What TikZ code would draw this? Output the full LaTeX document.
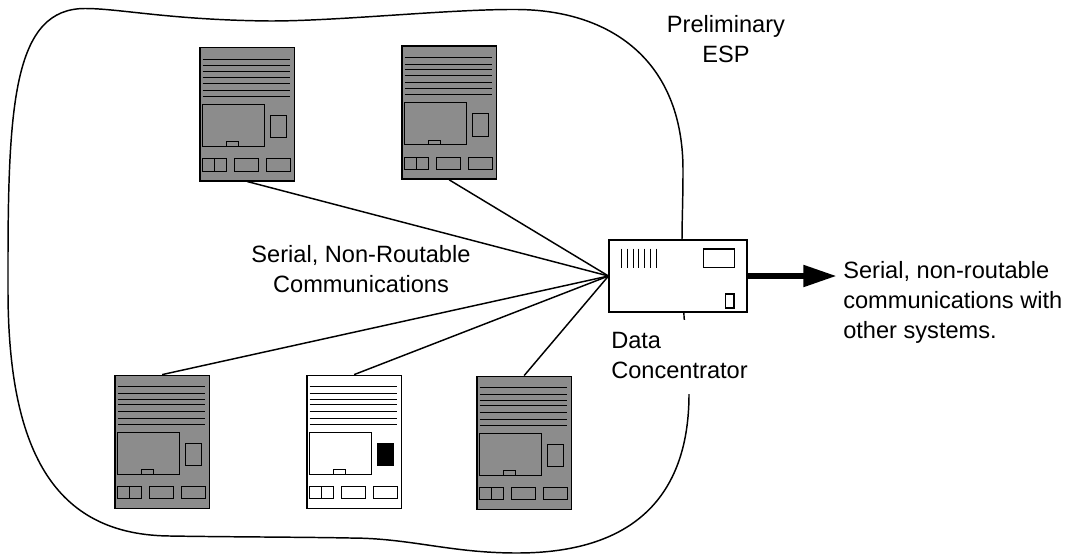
\documentclass[tikz,border=0pt]{standalone}
\usepackage{fontspec}
\setmainfont{Liberation Sans}
\definecolor{devgray}{HTML}{8C8C8C}
\tikzset{
  x=0.75pt,y=-0.75pt,
  frame/.style={draw=black,line width=1.3pt,inner sep=0pt,anchor=north west,minimum width=70.9pt,minimum height=99.8pt},
  inner/.style={draw=black,line width=0.75pt},
  link/.style={draw=black,line width=1.1pt},
  lbl/.style={align=center,font=\fontsize{17.7}{22.3}\selectfont,inner sep=0pt},
}
\newcommand{\device}[5]{%
  \node[frame,fill=#4] (#1) at (#2,#3) {};
  \begin{scope}[shift={(#2,#3)}]
    \foreach \yy in {12.3,19,24.7,30.3,37,43.7,49.7}
      \draw[inner] (3.7,\yy) -- (91,\yy);
    \draw[inner] (3.7,57.7) rectangle (65.7,99.7);
    \draw[inner] (27.3,95) rectangle (39.7,99.7);
    \draw[inner,fill=#5] (71,68.7) rectangle (87.3,91);
    \draw[inner] (3.7,112) rectangle (27.7,124.3);
    \draw[inner] (15.7,112) -- (15.7,124.3);
    \draw[inner] (35.3,112) rectangle (59.3,124.3);
    \draw[inner] (67,112) rectangle (91.3,124.3);
  \end{scope}}
\begin{document}
\begin{tikzpicture}
\useasboundingbox (0,0) rectangle (1066,554);
\draw[link] (85,8.5) .. controls (120,8.5) and (170,20) .. (270,21)
  .. controls (340,21) and (450,9) .. (517,9.5)
  .. controls (610,10) and (683,60) .. (683,170)
  .. controls (683,200) and (682,220) .. (682,240)
  -- (684,316) .. controls (686,340) and (689,370) .. (689,394)
  .. controls (689,490) and (640,553) .. (517,553)
  .. controls (450,553) and (410,538) .. (350,538)
  .. controls (300,537) and (230,537) .. (170,536)
  .. controls (60,535) and (8,460) .. (8,290)
  -- (8,265)
  .. controls (8,100) and (15,8.5) .. (85,8.5) -- cycle;
\node[fill=white,inner sep=0pt,minimum width=104pt,minimum height=55.5pt,anchor=north west] (conclabel) at (610,319.5) {};
\node[lbl,align=left,anchor=base west] (conctext) at (611,378) {Data\\Concentrator};
\node[lbl,anchor=base] (esp) at (726,62) {Preliminary\\ESP};
\node[lbl,anchor=base] (serial) at (361,292.3) {Serial, Non-Routable\\Communications};
\node[lbl,align=left,anchor=base west] (other) at (843,338) {Serial, non-routable\\communications with\\other systems.};
\device{d1}{199}{46.7}{devgray}{devgray}
\device{d2}{401}{45}{devgray}{devgray}
\device{d3}{114}{374.6}{devgray}{devgray}
\device{d4}{306}{374.6}{white}{black}
\device{d5}{476}{375.6}{devgray}{devgray}
\node[draw=black,line width=1.3pt,fill=white,inner sep=0pt,minimum width=103pt,minimum height=54.2pt] (hub) at (678,276) {};
\foreach \xx in {621.7,627.4,633.1,638.8,644.6,650.3,656}
  \draw[inner] (\xx,248.7) -- (\xx,267.7);
\node[inner,line width=1pt,inner sep=0pt,minimum width=22.9pt,minimum height=14pt] (hubscreen) at (719,258.4) {};
\node[inner,line width=1pt,inner sep=0pt,minimum width=6.5pt,minimum height=10.5pt] (hubport) at (729.7,301) {};
\coordinate (tip) at (835.7,276);
\draw[link] (d1.south) -- (hub.west);
\draw[link] (d2.south) -- (hub.west);
\draw[link] (d3.north) -- (hub.west);
\draw[link] (d4.north) -- (hub.west);
\draw[link] (d5.north) -- (hub.west);
\draw[line width=4.5pt] (hub.east) -- (804,276);
\fill (803.3,264.7) -- (tip) -- (803.3,287.3) -- cycle;
\end{tikzpicture}
\end{document}
